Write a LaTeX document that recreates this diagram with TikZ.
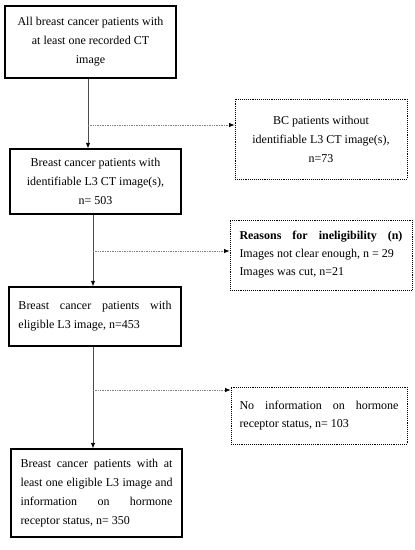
\documentclass[tikz,border=0pt]{standalone}
\usepackage{fontspec}
\setmainfont{Liberation Serif}
\usetikzlibrary{arrows.meta}
\begin{document}
\begin{tikzpicture}[x=1pt,y=-1pt,
  txt/.style={font=\fontsize{12}{19}\selectfont},
  solidbox/.style={txt, draw=black, line width=1.3pt, rectangle, inner sep=0pt, align=center},
  dotbox/.style={txt, draw=black, densely dotted, line width=0.9pt, rectangle, inner sep=0pt, align=left},
  tip/.style={-{Latex[length=5.5pt,width=4.5pt,color=black]}},
  mainline/.style={tip, draw=black!70, line width=0.8pt},
  sideline/.style={tip, draw=black!50, densely dotted, line width=0.7pt}
]
\useasboundingbox (0,0) rectangle (415,550);

\node[solidbox, minimum width=171, minimum height=72] (b1) at (90.5,42)
  {All breast cancer patients with\\ at least one recorded CT\\ image};
\node[dotbox, align=center, minimum width=172, minimum height=80] (b2) at (321,139)
  {BC patients without\\ identifiable L3 CT image(s),\\ n=73};
\node[solidbox, minimum width=171, minimum height=65] (b3) at (95.5,181.5)
  {Breast cancer patients with\\ identifiable L3 CT image(s),\\ n= 503};
\node[dotbox, font=\fontsize{12}{18}\selectfont, minimum width=182, minimum height=70] (b4) at (321,255)
  {\makebox[163pt][s]{\textbf{Reasons for ineligibility (n)}}\\
   \makebox[163pt][l]{Images not clear enough, n = 29}\\
   \makebox[163pt][l]{Images was cut, n=21}};
\node[solidbox, align=left, minimum width=172, minimum height=59] (b5) at (95,316.5)
  {\makebox[153pt][s]{Breast cancer patients with}\\
   \makebox[153pt][l]{eligible L3 image, n=453}};
\node[dotbox, font=\fontsize{12}{18}\selectfont, minimum width=176, minimum height=57] (b6) at (319,415.5)
  {\makebox[159pt][s]{No information on hormone}\\
   \makebox[159pt][l]{receptor status, n= 103}};
\node[solidbox, align=left, minimum width=171, minimum height=88] (b7) at (96.5,493)
  {\makebox[152pt][s]{Breast cancer patients with at}\\
   \makebox[152pt][s]{least one eligible L3 image and}\\
   \makebox[152pt][s]{information on hormone}\\
   \makebox[152pt][l]{receptor status, n= 350}};

\coordinate (j1) at (88,125);
\coordinate (j2) at (93,251);
\coordinate (j3) at (93,390);

\draw[mainline] (b1.south -| j1) -- (b3.north -| j1);
\draw[sideline] (j1) -- (b2.west |- j1);
\draw[mainline] (b3.south -| j2) -- (b5.north -| j2);
\draw[sideline] (j2) -- (b4.west |- j2);
\draw[mainline] (b5.south -| j3) -- (b7.north -| j3);
\draw[sideline] (j3) -- (b6.west |- j3);
\end{tikzpicture}
\end{document}
